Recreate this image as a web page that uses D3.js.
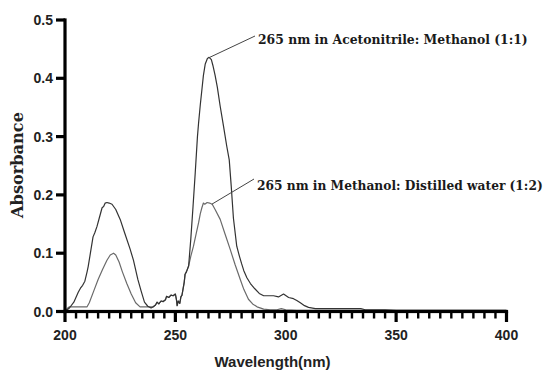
<!DOCTYPE html>
<html>
<head>
<meta charset="utf-8">
<script src="https://cdn.jsdelivr.net/npm/d3@7"></script>
<style>
  html, body { margin: 0; padding: 0; background: #fff; }
  svg { display: block; }
</style>
</head>
<body>
<svg id="chart" width="547" height="372"></svg>
<script>
// ---------- DATA ----------
const xTickValues = [200, 250, 300, 350, 400];
const yTickValues = [0.0, 0.1, 0.2, 0.3, 0.4, 0.5];
const xTickLabels = ["200", "250", "300", "350", "400"];
const yTickLabels = ["0.0", "0.1", "0.2", "0.3", "0.4", "0.5"];
const xMinorStep = 5;

// Series 1: Acetonitrile : Methanol (1:1)
const acnWavelength = [200, 202, 204, 206, 207, 208, 209, 210, 210.5, 211.5, 212.7, 213.5, 214.5, 215.5, 216.8, 217.5, 218.2, 219, 220, 221.3, 223, 225, 227, 229.5, 231, 233, 234.5, 236, 237.5, 239, 240, 241, 241.7, 242.5, 243.5, 244.5, 245.5, 246, 247, 248, 249, 250, 250.5, 250.8, 251.3, 252, 252.5, 253, 254, 254.4, 255, 256, 257, 258, 259, 260, 260.5, 261.3, 262, 262.7, 263.5, 264.5, 265.3, 266.3, 267, 268, 269, 270.3, 271.8, 273.3, 274.4, 275.3, 276.3, 277.8, 279, 280, 281, 282.4, 284, 286, 288, 290, 292, 294.5, 296.7, 299, 301.3, 303.5, 305, 306.6, 308.5, 310.3, 313.4, 320, 334, 336, 345, 350, 400];
const acnAbsorbance = [0.000, 0.006, 0.016, 0.033, 0.040, 0.045, 0.052, 0.068, 0.077, 0.100, 0.128, 0.135, 0.146, 0.160, 0.178, 0.180, 0.186, 0.187, 0.186, 0.184, 0.175, 0.158, 0.135, 0.107, 0.088, 0.055, 0.035, 0.016, 0.009, 0.006, 0.008, 0.011, 0.016, 0.013, 0.018, 0.017, 0.020, 0.026, 0.024, 0.028, 0.027, 0.030, 0.020, 0.010, 0.018, 0.014, 0.025, 0.028, 0.050, 0.064, 0.068, 0.078, 0.125, 0.180, 0.238, 0.300, 0.323, 0.355, 0.380, 0.405, 0.424, 0.434, 0.436, 0.432, 0.422, 0.405, 0.385, 0.352, 0.318, 0.283, 0.260, 0.215, 0.160, 0.112, 0.095, 0.082, 0.070, 0.058, 0.048, 0.039, 0.031, 0.027, 0.027, 0.027, 0.025, 0.030, 0.024, 0.022, 0.019, 0.015, 0.010, 0.007, 0.005, 0.005, 0.005, 0.003, 0.003, 0.002, 0.002];

// Series 2: Methanol : Distilled water (1:2)
const mwWavelength = [200, 201, 202, 210, 211, 213, 215, 217, 219, 220.5, 222, 223, 224.5, 226, 228, 230, 232, 234, 238.5, 240, 241, 241.7, 242.5, 243.5, 244.5, 245.5, 246, 247, 248, 249, 250, 250.5, 250.8, 251.3, 252, 252.5, 253, 254, 254.4, 255, 256, 257, 258.2, 259.5, 260.5, 261.3, 262, 262.7, 263.3, 264.4, 265.5, 266.7, 268, 270.3, 272.5, 274.8, 277, 279.4, 281, 283.1, 285, 287, 290, 293, 296, 298, 300, 305, 400];
const mwAbsorbance = [0.000, 0.005, 0.008, 0.008, 0.015, 0.035, 0.055, 0.072, 0.088, 0.097, 0.100, 0.097, 0.085, 0.068, 0.048, 0.030, 0.015, 0.008, 0.008, 0.008, 0.011, 0.016, 0.013, 0.018, 0.017, 0.020, 0.026, 0.024, 0.028, 0.027, 0.030, 0.020, 0.010, 0.018, 0.014, 0.025, 0.028, 0.050, 0.064, 0.068, 0.078, 0.095, 0.112, 0.135, 0.152, 0.168, 0.178, 0.186, 0.184, 0.187, 0.186, 0.184, 0.175, 0.158, 0.133, 0.107, 0.081, 0.055, 0.038, 0.021, 0.013, 0.008, 0.004, 0.003, 0.003, 0.005, 0.003, 0.002, 0.002];

const annotationTexts = ["265 nm in Acetonitrile: Methanol (1:1)", "265 nm in Methanol: Distilled water (1:2)"];
const annotationAnchorX = [265.6, 266.5];
const annotationAnchorY = [0.436, 0.184];

const xTitle = "Wavelength(nm)";
const yTitle = "Absorbance";

// ---------- LAYOUT ----------
const svg = d3.select("#chart");
const x = d3.scaleLinear().domain([200, 400]).range([65, 506.5]);
const y = d3.scaleLinear().domain([0, 0.5]).range([311.5, 20]);

const sansBold = "'Liberation Sans', Arial, sans-serif";
const serif = "'DejaVu Serif', serif";

// curves
const line = d3.line().x(d => x(d[0])).y(d => y(d[1]));
const acn = acnWavelength.map((w, i) => [w, acnAbsorbance[i]]);
const mw = mwWavelength.map((w, i) => [w, mwAbsorbance[i]]);

svg.append("path").datum(mw).attr("d", line)
  .attr("fill", "none").attr("stroke", "#6a6a6a").attr("stroke-width", 1.2).attr("stroke-linejoin", "round");
svg.append("path").datum(acn).attr("d", line)
  .attr("fill", "none").attr("stroke", "#333").attr("stroke-width", 1.2).attr("stroke-linejoin", "round");

// ---------- AXES (tick marks positioned by the scales) ----------
const axisG = svg.append("g");
const x0 = x.range()[0], y0 = y.range()[0];
const minorVals = d3.range(200 + xMinorStep, 400, xMinorStep).filter(v => v % 50 !== 0);

// x minor ticks
axisG.selectAll("rect.xminor").data(minorVals).join("rect").attr("class", "xminor")
  .attr("x", d => x(d) - 1.2).attr("width", 2.4)
  .attr("y", y0).attr("height", 7).attr("fill", "#000");
// x major ticks
axisG.selectAll("rect.xmajor").data(xTickValues).join("rect").attr("class", "xmajor")
  .attr("x", d => x(d) - 1.6).attr("width", 3.2)
  .attr("y", y0).attr("height", 10.5).attr("fill", "#000");
// y major ticks
axisG.selectAll("rect.ymajor").data(yTickValues).join("rect").attr("class", "ymajor")
  .attr("x", x0 - 9).attr("width", 9)
  .attr("y", d => y(d) - 1.6).attr("height", 3.2).attr("fill", "#000");
// domain lines
axisG.append("rect").attr("x", x0 - 1.6).attr("width", x.range()[1] - x0 + 3.2)
  .attr("y", y0 - 1.6).attr("height", 3.2).attr("fill", "#000");
axisG.append("rect").attr("x", x0 - 1.6).attr("width", 3.2)
  .attr("y", y.range()[1] - 1.6).attr("height", y0 - y.range()[1] + 3.2).attr("fill", "#000");

// tick labels
axisG.selectAll("text.xlab").data(xTickValues).join("text").attr("class", "xlab")
  .attr("x", d => x(d)).attr("y", 340).attr("text-anchor", "middle")
  .attr("font-family", sansBold).attr("font-weight", "bold").attr("font-size", 14).attr("fill", "#222")
  .text((d, i) => xTickLabels[i]);
axisG.selectAll("text.ylab").data(yTickValues).join("text").attr("class", "ylab")
  .attr("x", x0 - 12).attr("y", d => y(d)).attr("dy", "0.36em").attr("text-anchor", "end")
  .attr("font-family", sansBold).attr("font-weight", "bold").attr("font-size", 14).attr("fill", "#222")
  .text((d, i) => yTickLabels[i]);

// axis titles
svg.append("text").attr("x", 272.5).attr("y", 367).attr("text-anchor", "middle")
  .attr("font-family", sansBold).attr("font-weight", "bold").attr("font-size", 15)
  .attr("fill", "#222").text(xTitle);

function fitText(sel, target, base) {
  sel.attr("font-size", base);
  const w = sel.node().getComputedTextLength();
  sel.attr("font-size", base * target / w);
}

const yT = svg.append("text").attr("transform", "translate(23,165) rotate(-90)")
  .attr("text-anchor", "middle").attr("font-family", serif).attr("font-weight", "bold")
  .attr("fill", "#222").text(yTitle);
fitText(yT, 106, 14);

// annotations
const labelPos = [[258, 44], [257, 190]];
const lineEnd = [[255, 36], [254, 179]];
const labelWidths = [270, 286];
annotationTexts.forEach((t, i) => {
  svg.append("line")
    .attr("x1", x(annotationAnchorX[i])).attr("y1", y(annotationAnchorY[i]))
    .attr("x2", lineEnd[i][0]).attr("y2", lineEnd[i][1])
    .attr("stroke", "#444").attr("stroke-width", 1);
  const tx = svg.append("text").attr("x", labelPos[i][0]).attr("y", labelPos[i][1])
    .attr("font-family", serif).attr("font-weight", "bold").attr("fill", "#1a1a1a").text(t);
  fitText(tx, labelWidths[i], 13);
});
</script>
</body>
</html>
